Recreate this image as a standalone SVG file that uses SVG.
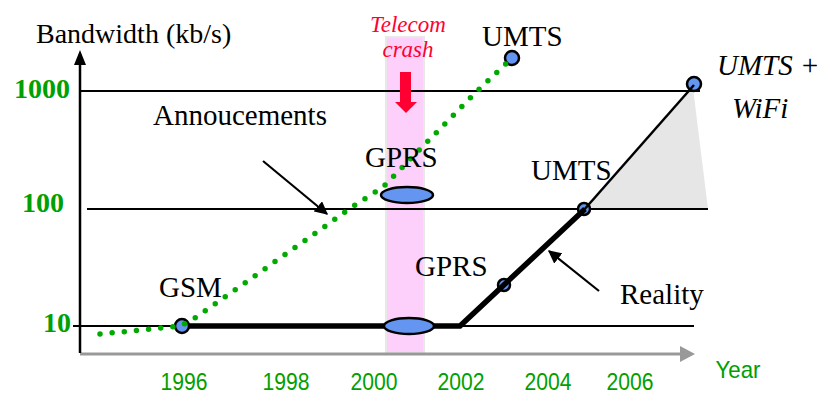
<svg xmlns="http://www.w3.org/2000/svg" width="819" height="394" viewBox="0 0 819 394">
  <style>
    .serif { font-family: "Liberation Serif", "Times New Roman", serif; fill: #000; }
    .lbl { font-size: 29px; }
    .crash { font-family: "Liberation Serif", "Times New Roman", serif; font-style: italic; font-size: 23px; fill: #ff0033; text-anchor: middle; }
    .ylab { font-family: "Liberation Serif", "Times New Roman", serif; font-size: 28px; font-weight: bold; fill: #00a000; }
    .year { font-family: "Liberation Sans", Arial, sans-serif; font-size: 24px; fill: #00a000; text-anchor: middle; }
    .grid { stroke: #000; stroke-width: 2.2; fill: none; }
    .node { fill: #6495f0; stroke: #000; stroke-width: 2.5; }
    .dots { stroke: #00aa00; stroke-width: 5.5; stroke-linecap: round; stroke-dasharray: 0 12.2; fill: none; }
  </style>
  <defs>
    <marker id="arrowBlack" viewBox="0 0 10 10" refX="9" refY="5" markerWidth="6" markerHeight="6" orient="auto">
      <path d="M0,0 L10,5 L0,10 z" fill="#000"/>
    </marker>
  </defs>

  <rect width="819" height="394" fill="#fff"/>

  <!-- telecom crash band and growth area -->
  <g id="crash-band">
    <rect x="386" y="37" width="38" height="316" fill="#fcd0fa" stroke="#e8e8e8" stroke-width="2"/>
  </g>
  <g id="wifi-area">
    <polygon points="585,209 693,88 708,209" fill="#e6e6e6"/>
  </g>

  <!-- axes -->
  <g id="axes">
    <line x1="80" y1="354" x2="684" y2="354" stroke="#999" stroke-width="3"/>
    <polygon points="680,346 695,354 680,362" fill="#999"/>
    <line x1="80" y1="353" x2="80" y2="62" stroke="#000" stroke-width="2.5"/>
    <polygon points="74,65 80,50 86,65" fill="#000"/>
  </g>

  <!-- bandwidth levels -->
  <g id="levels">
    <line class="grid" x1="80" y1="91" x2="700" y2="91"/>
    <line class="grid" x1="87" y1="209" x2="708" y2="209"/>
    <line class="grid" x1="73" y1="326" x2="694" y2="326"/>
  </g>

  <!-- milestones -->
  <g id="gsm"><circle class="node" cx="182" cy="326" r="7"/></g>
  <g id="umts-announced"><circle class="node" cx="512" cy="58" r="7"/></g>
  <g id="umts-wifi"><circle class="node" cx="694" cy="84" r="7"/></g>
  <g id="gprs-real"><circle class="node" cx="504" cy="285" r="6"/></g>
  <g id="umts-real"><circle class="node" cx="584" cy="209" r="6"/></g>

  <!-- connectors: actual deployment, announced roadmap, pointers -->
  <g id="connectors">
    <path d="M189,326 L460,326 L585,209" fill="none" stroke="#000" stroke-width="5.5" stroke-linejoin="miter"/>
    <path d="M583,211 L694,85" fill="none" stroke="#000" stroke-width="2.5"/>
    <path class="dots" d="M100,334 L172,327 L182,325 L195,318 L225,297 L245,283 L273,263 L303,242 L352,207 L383,187 L433,136 L475,93 L512,58"/>
    <line x1="263" y1="161" x2="327" y2="214" stroke="#000" stroke-width="2.2" marker-end="url(#arrowBlack)"/>
    <line x1="599" y1="291" x2="549" y2="251" stroke="#000" stroke-width="2.2" marker-end="url(#arrowBlack)"/>
  </g>

  <g id="gprs-announced"><ellipse class="node" cx="407" cy="195" rx="26" ry="8"/></g>
  <g id="crash-point"><ellipse class="node" cx="409" cy="326" rx="25" ry="8"/></g>

  <!-- crash marker -->
  <g id="crash-arrow">
    <rect x="400" y="72" width="11" height="31" fill="#ff0033"/>
    <polygon points="395,102 417,102 406,113" fill="#ff0033"/>
    <text class="crash" x="408" y="32">Telecom</text>
    <text class="crash" x="408" y="57">crash</text>
  </g>

  <!-- labels -->
  <g id="labels">
    <text class="serif" x="36" y="43" font-size="28">Bandwidth (kb/s)</text>
    <text class="serif lbl" x="153" y="125">Annoucements</text>
    <text class="serif lbl" x="159" y="297">GSM</text>
    <text class="serif lbl" x="365" y="167">GPRS</text>
    <text class="serif lbl" x="415" y="276">GPRS</text>
    <text class="serif lbl" x="482" y="46">UMTS</text>
    <text class="serif lbl" x="531" y="180">UMTS</text>
    <text class="serif lbl" x="620" y="304">Reality</text>
    <text class="serif lbl" x="717" y="75" font-style="italic">UMTS +</text>
    <text class="serif lbl" x="732" y="118" font-style="italic">WiFi</text>
  </g>

  <g id="level-labels">
    <text class="ylab" x="70" y="98" text-anchor="end">1000</text>
    <text class="ylab" x="64" y="212" text-anchor="end">100</text>
    <text class="ylab" x="71" y="332" text-anchor="end">10</text>
  </g>

  <g id="year-labels">
    <text class="year" x="184" y="390" textLength="47" lengthAdjust="spacingAndGlyphs">1996</text>
    <text class="year" x="286" y="390" textLength="47" lengthAdjust="spacingAndGlyphs">1998</text>
    <text class="year" x="374" y="390" textLength="47" lengthAdjust="spacingAndGlyphs">2000</text>
    <text class="year" x="461" y="390" textLength="47" lengthAdjust="spacingAndGlyphs">2002</text>
    <text class="year" x="548" y="390" textLength="47" lengthAdjust="spacingAndGlyphs">2004</text>
    <text class="year" x="630" y="390" textLength="47" lengthAdjust="spacingAndGlyphs">2006</text>
    <text class="year" x="738" y="378" textLength="45" lengthAdjust="spacingAndGlyphs">Year</text>
  </g>
</svg>
